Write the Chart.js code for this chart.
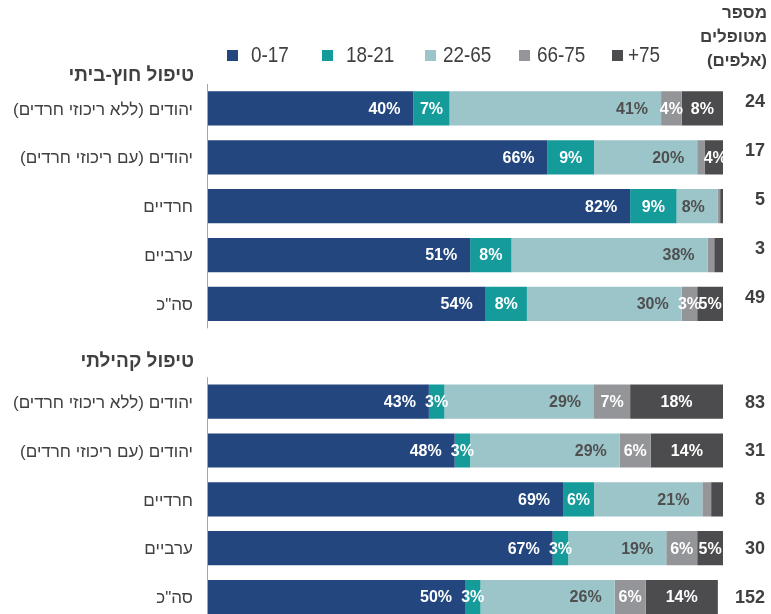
<!DOCTYPE html>
<html lang="he">
<head>
<meta charset="utf-8">
<script src="https://cdn.jsdelivr.net/npm/chart.js@4/dist/chart.umd.min.js"></script>
<style>
  html, body { margin: 0; padding: 0; background: #ffffff; overflow: hidden; }
  #wrap { width: 771px; height: 640px; position: relative; }
</style>
</head>
<body>
<div id="wrap"><canvas id="c" width="771" height="640"></canvas></div>
<script>
// Row labels (empty row separates the two care types)
const categories = [
  'יהודים (ללא ריכוזי חרדים)',
  'יהודים (עם ריכוזי חרדים)',
  'חרדיים',
  'ערביים',
  'סה"כ',
  '',
  'יהודים (ללא ריכוזי חרדים)',
  'יהודים (עם ריכוזי חרדים)',
  'חרדיים',
  'ערביים',
  'סה"כ'
];
const groupTitles = ['טיפול חוץ-ביתי', 'טיפול קהילתי'];
const seriesNames = ['0-17', '18-21', '22-65', '66-75', '+75'];

// Share of each age group (%)
const age0to17  = [40, 66, 82, 51, 54, null, 43, 48, 69, 67, 50];
const age18to21 = [7, 9, 9, 8, 8, null, 3, 3, 6, 3, 3];
const age22to65 = [41, 20, 8, 38, 30, null, 29, 29, 21, 19, 26];
const age66to75 = [4, 1.5, 0.45, 1.3, 3, null, 7, 6, 1.7, 6, 6];
const age75plus = [8, 4, 0.55, 1.7, 5, null, 18, 14, 2.3, 5, 14];

// Number of people treated (thousands)
const totals = [24, 17, 5, 3, 49, null, 83, 31, 8, 30, 152];

const colors = ['#23467f', '#169b9b', '#9cc5c9', '#949599', '#4c4c4e'];
const labelColors = ['#ffffff', '#ffffff', '#4f4f4f', '#ffffff', '#ffffff'];
const labelAnchorEnd = [true, false, true, false, false];
const textColor = '#404040';
const seriesData = [age0to17, age18to21, age22to65, age66to75, age75plus];

const decorations = {
  id: 'decorations',
  afterDatasetsDraw(chart) {
    const ctx = chart.ctx;
    const y = chart.scales.y;
    const area = chart.chartArea;
    const band = (y.getPixelForValue(1) - y.getPixelForValue(0));

    ctx.save();
    // value labels inside segments
    ctx.font = 'bold 16px "Liberation Sans", Arial, sans-serif';
    ctx.textBaseline = 'middle';
    ctx.direction = 'ltr';
    chart.data.datasets.forEach((ds, di) => {
      const meta = chart.getDatasetMeta(di);
      meta.data.forEach((bar, i) => {
        const v = ds.data[i];
        if (v == null || v < 3) return;
        const txt = Math.round(v) + '%';
        ctx.fillStyle = labelColors[di];
        const left = Math.min(bar.x, bar.base);
        const right = Math.max(bar.x, bar.base);
        if (labelAnchorEnd[di]) {
          ctx.textAlign = 'right';
          ctx.fillText(txt, right - 13, bar.y + 1);
        } else {
          ctx.textAlign = 'center';
          ctx.fillText(txt, (left + right) / 2, bar.y + 1);
        }
      });
    });

    // vertical axis line, broken at the separator row
    ctx.strokeStyle = '#a6a6a6';
    ctx.lineWidth = 1;
    const x0 = Math.round(area.left) + 0.5;
    const sepTop = y.getPixelForValue(5) - band / 2;
    const sepBottom = y.getPixelForValue(5) + band / 2;
    ctx.beginPath();
    ctx.moveTo(x0, area.top);
    ctx.lineTo(x0, sepTop);
    ctx.moveTo(x0, sepBottom);
    ctx.lineTo(x0, area.bottom);
    ctx.stroke();

    // row labels
    ctx.direction = 'rtl';
    ctx.textAlign = 'right';
    ctx.fillStyle = textColor;
    ctx.font = '17px "Liberation Sans", Arial, sans-serif';
    categories.forEach((c, i) => {
      if (!c) return;
      ctx.fillText(c, 193, y.getPixelForValue(i) + 1.5);
    });

    // group titles
    ctx.font = 'bold 19px "Liberation Sans", Arial, sans-serif';
    ctx.fillText(groupTitles[0], 194, 76);
    ctx.fillText(groupTitles[1], 194, 362);

    // totals column
    ctx.font = 'bold 18px "Liberation Sans", Arial, sans-serif';
    ctx.direction = 'ltr';
    totals.forEach((t, i) => {
      if (t == null) return;
      const off = i < 5 ? -6 : 1;
      ctx.fillText(String(t), 765, y.getPixelForValue(i) + off);
    });

    // totals column header
    ctx.direction = 'rtl';
    ctx.font = 'bold 17px "Liberation Sans", Arial, sans-serif';
    ctx.fillText('מספר', 767, 13);
    ctx.fillText('מטופלים', 767, 37);
    ctx.fillText('(אלפים)', 767, 61);

    // legend (condensed text)
    ctx.direction = 'ltr';
    ctx.textAlign = 'left';
    ctx.font = '22px "Liberation Sans", Arial, sans-serif';
    const boxX = [227, 322, 425, 519, 612];
    const textX = [251, 346, 443, 537, 628];
    seriesNames.forEach((n, i) => {
      ctx.fillStyle = colors[i];
      ctx.fillRect(boxX[i], 50, 11, 11);
      ctx.fillStyle = textColor;
      ctx.save();
      ctx.translate(textX[i], 56);
      ctx.scale(0.86, 1);
      ctx.fillText(n, 0, 0);
      ctx.restore();
    });
    ctx.restore();
  }
};

new Chart(document.getElementById('c'), {
  type: 'bar',
  data: {
    labels: categories,
    datasets: seriesData.map((d, i) => ({
      label: seriesNames[i],
      data: d,
      backgroundColor: colors[i],
      borderWidth: 0,
      categoryPercentage: 1,
      barPercentage: 0.7
    }))
  },
  options: {
    indexAxis: 'y',
    responsive: false,
    animation: false,
    layout: { padding: { left: 207, right: 48, top: 84, bottom: 18.5 } },
    scales: {
      x: { stacked: true, min: 0, max: 100, display: false },
      y: { stacked: true, display: false }
    },
    plugins: {
      legend: { display: false },
      tooltip: { enabled: false }
    }
  },
  plugins: [decorations]
});
</script>
</body>
</html>
